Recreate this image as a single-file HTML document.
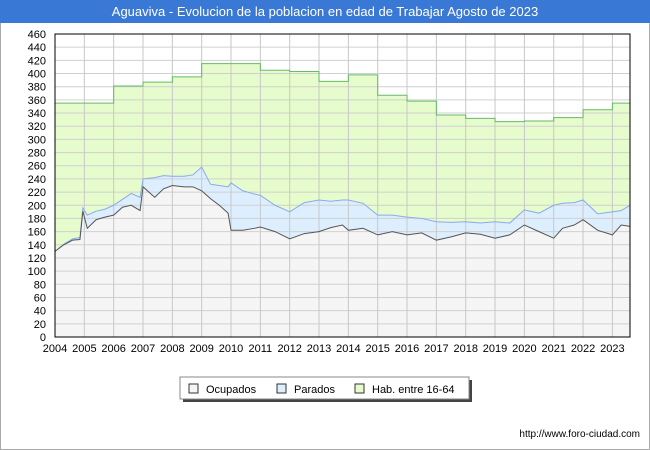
<!DOCTYPE html>
<html><head><meta charset="utf-8"><style>
body{margin:0;background:#fff;font-family:"Liberation Sans",sans-serif}
#wrap{position:relative;width:650px;height:450px;overflow:hidden}
</style></head><body>
<div id="wrap">
<svg id="svg" width="650" height="450" xmlns="http://www.w3.org/2000/svg">
<rect x="0.5" y="0.5" width="649" height="449" fill="#fff" stroke="#aaa"/>
<rect x="0" y="0" width="650" height="23" fill="#3a78d6"/>
<text x="325" y="16" text-anchor="middle" fill="#fff" font-size="13">Aguaviva - Evolucion de la poblacion en edad de Trabajar Agosto de 2023</text>
<g id="plot"></g>
<text x="640" y="437" text-anchor="end" font-size="10" fill="#000">http://www.foro-ciudad.com</text>
</svg>
</div>
<script>
const years=[2004,2005,2006,2007,2008,2009,2010,2011,2012,2013,2014,2015,2016,2017,2018,2019,2020,2021,2022,2023];
const habValues=[355,355,381,387,395,415,415,405,403,388,398,367,358,337,332,327,328,333,345,355];
const dates=[2004,2004.3,2004.6,2004.85,2004.95,2005.1,2005.4,2005.7,2006,2006.3,2006.6,2006.9,2007,2007.4,2007.7,2008,2008.4,2008.7,2009,2009.3,2009.6,2009.9,2010,2010.4,2010.8,2011,2011.5,2012,2012.5,2013,2013.4,2013.8,2014,2014.5,2015,2015.5,2016,2016.5,2017,2017.5,2018,2018.5,2019,2019.5,2020,2020.5,2021,2021.3,2021.7,2022,2022.5,2023,2023.3,2023.6];
const ocupados=[130,140,147,148,191,165,178,182,185,197,200,192,228,212,225,230,228,228,222,210,200,188,162,162,165,167,160,149,157,160,166,170,162,165,155,160,155,158,147,152,158,156,150,155,170,160,150,165,170,178,162,155,170,168];
const parados=[0,1,2,3,5,20,13,12,15,12,18,20,12,30,20,14,16,18,36,22,30,40,72,60,52,48,40,41,47,48,40,38,46,38,30,25,27,22,28,22,17,17,25,18,23,28,50,38,34,30,25,35,22,32];
const yTicks=[0,20,40,60,80,100,120,140,160,180,200,220,240,260,280,300,320,340,360,380,400,420,440,460];
const X0=55,X1=630,Y0=337,Y1=34,xMin=2004,xMax=2023.6;
const xs=v=>X0+(v-xMin)/(xMax-xMin)*(X1-X0);
const ys=v=>Y0-v/460*(Y0-Y1);
const NS="http://www.w3.org/2000/svg",g=document.getElementById('plot');
function mk(t,a,name){const e=document.createElementNS(NS,t);for(const k in a)e.setAttribute(k,a[k]);


g.appendChild(e);return e;}
mk('rect',{x:X0,y:Y1,width:X1-X0,height:Y0-Y1,fill:'#fff'},'plot-area');
// hab step path
let hp=`M${xs(xMin)},${ys(0)}`;
years.forEach((y,i)=>{const x=xs(y);hp+=` L${x},${ys(i?habValues[i-1]:habValues[0])} L${x},${ys(habValues[i])}`;});
hp+=` L${X1},${ys(habValues[habValues.length-1])}`;
mk('path',{d:hp+` L${X1},${ys(0)} Z`,fill:'#e6fccc'},'hab-area');
let tp='',op='';
dates.forEach((d,i)=>{tp+=(i?' L':'M')+xs(d)+','+ys(ocupados[i]+parados[i]);op+=(i?' L':'M')+xs(d)+','+ys(ocupados[i]);});
const last=`L${X1},${ys(0)} L${X0},${ys(0)} Z`;
mk('path',{d:tp+` L${X1},${ys(ocupados[ocupados.length-1]+parados[parados.length-1])} `+last,fill:'#ddeeff'},'parados-area');
mk('path',{d:op+` L${X1},${ys(ocupados[ocupados.length-1])} `+last,fill:'#f5f5f5'},'ocupados-area');
yTicks.forEach(v=>{mk('line',{x1:X0,x2:X1,y1:ys(v),y2:ys(v),stroke:'#d0d0d0'},'y-gridline');
const t=mk('text',{x:X0-9,y:ys(v)+4,'text-anchor':'end','font-size':11,fill:'#000'},'y-tick-label');t.textContent=v;});
years.forEach(y=>{mk('line',{x1:xs(y),x2:xs(y),y1:Y1,y2:Y0,stroke:'#c8c8c8'},'x-gridline');
const t=mk('text',{x:xs(y),y:Y0+15,'text-anchor':'middle','font-size':11,fill:'#000'},'x-tick-label');t.textContent=y;});
mk('path',{d:hp,fill:'none',stroke:'#66bb66'},'hab-line');
mk('path',{d:tp,fill:'none',stroke:'#88aaee'},'parados-line');
mk('path',{d:op,fill:'none',stroke:'#555'},'ocupados-line');
mk('rect',{x:X0,y:Y1,width:X1-X0,height:Y0-Y1,fill:'none',stroke:'#000'},'plot-border');
// legend
mk('rect',{x:183,y:380,width:289,height:22,fill:'#444'},'legend-shadow');
mk('rect',{x:180,y:377,width:289,height:22,fill:'#fff',stroke:'#888'},'legend-box');
[['Ocupados','#f5f5f5',189],['Parados','#ddeeff',277],['Hab. entre 16-64','#e6fccc',355]].forEach(([n,c,x])=>{
mk('rect',{x:x,y:384,width:9,height:9,fill:c,stroke:'#333'},'legend-swatch');
const t=mk('text',{x:x+17,y:393,'font-size':11,fill:'#000'},'legend-entry');t.textContent=n;});
</script>
</body></html>
